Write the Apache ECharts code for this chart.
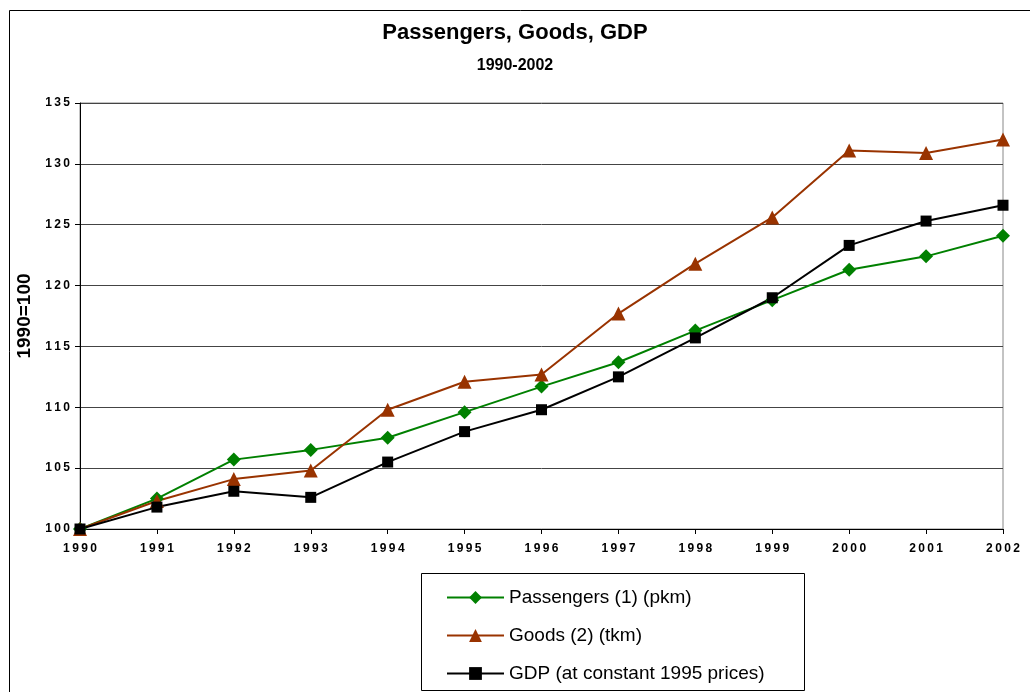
<!DOCTYPE html>
<html>
<head>
<meta charset="utf-8">
<script src="https://cdn.jsdelivr.net/npm/echarts@6/dist/echarts.min.js"></script>
<style>
  html, body { margin: 0; padding: 0; background: #fff; }
  #chart { width: 1030px; height: 692px; }
</style>
</head>
<body>
<div id="chart"></div>
<script>
const years = ["1990", "1991", "1992", "1993", "1994", "1995", "1996", "1997", "1998", "1999", "2000", "2001", "2002"];
const passengers = [100, 102.5, 105.7, 106.5, 107.5, 109.6, 111.7, 113.7, 116.3, 118.8, 121.3, 122.4, 124.1];
const goods = [100, 102.3, 104.1, 104.8, 109.8, 112.1, 112.7, 117.7, 121.8, 125.6, 131.1, 130.9, 132.0];
const gdp = [100, 101.8, 103.1, 102.6, 105.5, 108.0, 109.8, 112.5, 115.7, 119.0, 123.3, 125.3, 126.6];

// wide letter spacing like the original tick labels
const spaced = (v) => String(v).split("").join("\u2009");

var myChart = echarts.init(document.getElementById("chart"));
var option = {
  backgroundColor: "#fff",
  textStyle: { fontFamily: "Liberation Sans, Arial, sans-serif" },
  title: {
    text: "Passengers, Goods, GDP",
    subtext: "1990-2002",
    left: "center",
    top: 17,
    itemGap: 14,
    textStyle: { fontSize: 22, fontWeight: "bold", color: "#000" },
    subtextStyle: { fontSize: 16, fontWeight: "bold", color: "#000" }
  },
  legend: {
    orient: "vertical",
    left: 441,
    top: 583,
    itemWidth: 57,
    itemHeight: 16,
    itemGap: 19,
    textStyle: { fontSize: 19, color: "#000" },
    data: ["Passengers (1) (pkm)", "Goods (2) (tkm)", "GDP (at constant 1995 prices)"]
  },
  graphic: [
    {
      type: "rect",
      shape: { x: 9.5, y: 10.5, width: 1040, height: 700 },
      style: { fill: "none", stroke: "#000", lineWidth: 1 }
    },
    {
      type: "rect",
      shape: { x: 421.5, y: 573.5, width: 383, height: 117 },
      style: { fill: "none", stroke: "#000", lineWidth: 1 }
    }
  ],
  grid: {
    left: 80,
    right: 27,
    top: 103,
    bottom: 163,
    show: true,
    borderColor: "#888",
    borderWidth: 1
  },
  xAxis: {
    type: "category",
    boundaryGap: false,
    data: years,
    axisLine: { lineStyle: { color: "#000", width: 1 } },
    axisTick: { show: true, length: 5, lineStyle: { color: "#000" } },
    axisLabel: {
      formatter: spaced,
      fontSize: 12,
      fontWeight: "bold",
      color: "#000",
      margin: 14
    },
    splitLine: { show: false }
  },
  yAxis: {
    type: "value",
    min: 100,
    max: 135,
    interval: 5,
    name: "1990=100",
    nameLocation: "middle",
    nameGap: 43,
    nameTextStyle: { fontSize: 19, fontWeight: "bold", color: "#000" },
    axisLine: { show: true, lineStyle: { color: "#000", width: 1 } },
    axisTick: { show: true, length: 5, lineStyle: { color: "#000" } },
    axisLabel: {
      formatter: spaced,
      fontSize: 12,
      fontWeight: "bold",
      color: "#000",
      margin: 10
    },
    splitLine: { show: true, lineStyle: { color: "#444", width: 1 } }
  },
  series: [
    {
      name: "Passengers (1) (pkm)",
      type: "line",
      data: passengers,
      symbol: "diamond",
      symbolSize: 14,
      lineStyle: { color: "#008000", width: 2 },
      itemStyle: { color: "#008000" }
    },
    {
      name: "Goods (2) (tkm)",
      type: "line",
      data: goods,
      symbol: "triangle",
      symbolSize: 14,
      lineStyle: { color: "#993300", width: 2 },
      itemStyle: { color: "#993300" }
    },
    {
      name: "GDP (at constant 1995 prices)",
      type: "line",
      data: gdp,
      symbol: "rect",
      symbolSize: 11,
      lineStyle: { color: "#000", width: 2 },
      itemStyle: { color: "#000" }
    }
  ],
  animation: false
};

option && myChart.setOption(option);
</script>
</body>
</html>
